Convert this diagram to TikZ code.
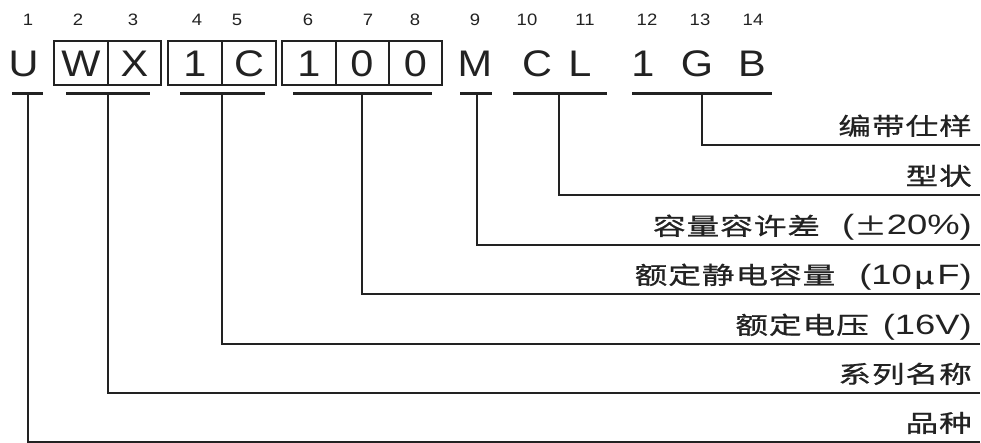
\documentclass[tikz,border=0pt]{standalone}
\usepackage{fontspec}
\setmainfont{Liberation Sans}
\newfontfamily\cjkf[FakeStretch=1.36,LetterSpace=4,FakeBold=0.8]{Noto Sans CJK SC}
\newfontfamily\labf[FakeStretch=1.3]{Liberation Sans}
\newfontfamily\codef[FakeStretch=1.12]{Liberation Sans}
\definecolor{ink}{HTML}{222222}
\begin{document}
\begin{tikzpicture}[x=1pt,y=-1pt,
  letter/.style={inner sep=0pt,anchor=base,font=\codef\fontsize{37}{40}\selectfont,text=ink},
  num/.style={inner sep=0pt,anchor=base,font=\codef\fontsize{16.5}{18}\selectfont,text=ink},
  lbl/.style={inner sep=0pt,anchor=base east,font=\fontsize{24}{28}\selectfont,text=ink},
  cell/.style={draw=ink,line width=1.3pt},
  bar/.style={draw=ink,line width=3pt},
  conn/.style={draw=ink,line width=1.6pt}]
\useasboundingbox (0,0) rectangle (981,443);
% position numbers
\node[num] (n1) at (28,26) {1};
\node[num] (n2) at (78,26) {2};
\node[num] (n3) at (133,26) {3};
\node[num] (n4) at (197,26) {4};
\node[num] (n5) at (237,26) {5};
\node[num] (n6) at (308,26) {6};
\node[num] (n7) at (368,26) {7};
\node[num] (n8) at (415,26) {8};
\node[num] (n9) at (475,26) {9};
\node[num] (n10) at (527,26) {10};
\node[num] (n11) at (585,26) {11};
\node[num] (n12) at (647,26) {12};
\node[num] (n13) at (700,26) {13};
\node[num] (n14) at (753,26) {14};
% boxes
\draw[cell] (54,41) rectangle (161,85) (108,41) -- (108,85);
\draw[cell] (168,41) rectangle (276,85) (222,41) -- (222,85);
\draw[cell] (282,41) rectangle (442,85) (336,41) -- (336,85) (389,41) -- (389,85);
% code letters
\node[letter] (cU) at (23.5,77) {U};
\node[letter] (cW) at (81,77) {W};
\node[letter] (cX) at (134.5,77) {X};
\node[letter] (c1) at (195,77) {1};
\node[letter] (cC) at (249,77) {C};
\node[letter] (c1b) at (309,77) {1};
\node[letter] (c0) at (362,77) {0};
\node[letter] (c0b) at (415.5,77) {0};
\node[letter] (cM) at (475,77) {M};
\node[letter] (cC2) at (537,77) {C};
\node[letter] (cL) at (580,77) {L};
\node[letter] (c12) at (643,77) {1};
\node[letter] (cG) at (697,77) {G};
\node[letter] (cB) at (752,77) {B};
% underline bars
\draw[bar] (12,94) -- (43,94);
\draw[bar] (66,94) -- (150,94);
\draw[bar] (180,94) -- (265,94);
\draw[bar] (293,94) -- (432,94);
\draw[bar] (460,94) -- (492,94);
\draw[bar] (513,94) -- (607,94);
\draw[bar] (632,94) -- (772,94);
% bar taps
\coordinate (tU) at (28,94);
\coordinate (tWX) at (108,94);
\coordinate (t1C) at (222,94);
\coordinate (t100) at (362,94);
\coordinate (tM) at (477,94);
\coordinate (tCL) at (559,94);
\coordinate (tGB) at (702,94);
% line ends at right
\coordinate (eGB) at (980,145);
\coordinate (eCL) at (980,195);
\coordinate (eM) at (980,245);
\coordinate (e100) at (980,294);
\coordinate (e1C) at (980,344);
\coordinate (eWX) at (980,393);
\coordinate (eU) at (980,442);
% labels
\node[lbl] (lGB) at (972,135) {\cjkf 编带仕样};
\node[lbl] (lCL) at (972,185) {\cjkf 型状};
\node[lbl] (lM) at (972,235) {{\cjkf 容量容许差}\hspace{22pt}{\labf\fontsize{28}{30}\selectfont(}{\cjkf ±}{\labf\fontsize{28}{30}\selectfont 20\%)}};
\node[lbl] (l100) at (972,284) {{\cjkf 额定静电容量}\hspace{24pt}{\labf\fontsize{28}{30}\selectfont(10}\hspace{2pt}{\cjkf\itshape μ}\hspace{3pt}{\labf\fontsize{28}{30}\selectfont F)}};
\node[lbl] (l1C) at (972,334) {{\cjkf 额定电压}\hspace{14pt}{\labf\fontsize{28}{30}\selectfont(16V)}};
\node[lbl] (lWX) at (972,383) {\cjkf 系列名称};
\node[lbl] (lU) at (972,432) {\cjkf 品种};
% connectors
\draw[conn] (tGB) |- (eGB);
\draw[conn] (tCL) |- (eCL);
\draw[conn] (tM) |- (eM);
\draw[conn] (t100) |- (e100);
\draw[conn] (t1C) |- (e1C);
\draw[conn] (tWX) |- (eWX);
\draw[conn] (tU) |- (eU);
\end{tikzpicture}
\end{document}
